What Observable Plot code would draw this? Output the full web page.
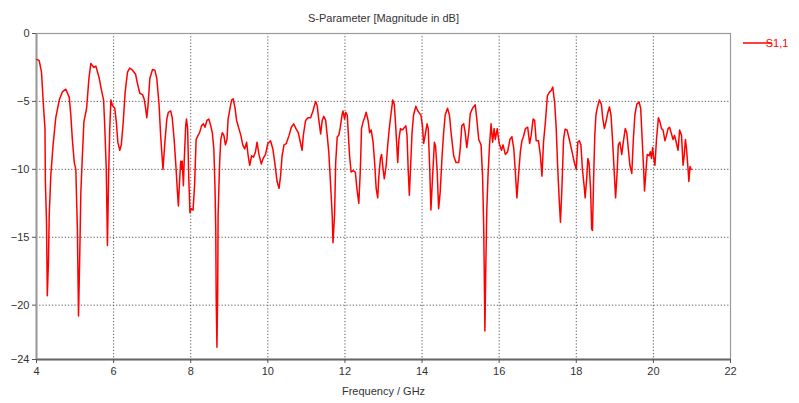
<!DOCTYPE html>
<html>
<head>
<meta charset="utf-8">
<script src="https://cdn.jsdelivr.net/npm/d3@7"></script>
<script src="https://cdn.jsdelivr.net/npm/@observablehq/plot@0.6"></script>
<style>
  html, body { margin: 0; padding: 0; background: #fff; }
</style>
</head>
<body>
<div id="chart"></div>
<script>
const freq = [
4.01,4.07,4.13,4.18,4.22,4.23,4.26,4.28,4.31,4.33,4.37,4.43,4.50,4.59,4.67,4.76,4.85,4.89,4.93,4.98,
5.02,5.06,5.09,5.12,5.15,5.19,5.23,5.30,5.36,5.41,5.49,5.54,5.62,5.68,5.74,5.77,5.81,5.84,5.87,5.90,
5.93,5.97,6.03,6.07,6.11,6.16,6.20,6.25,6.30,6.36,6.42,6.49,6.57,6.62,6.68,6.75,6.79,6.83,6.86,6.89,
6.94,7.01,7.07,7.12,7.18,7.22,7.28,7.33,7.38,7.42,7.48,7.52,7.57,7.61,7.65,7.68,7.71,7.74,7.76,7.78,
7.81,7.83,7.87,7.89,7.92,7.95,7.98,8.01,8.06,8.10,8.14,8.19,8.23,8.28,8.33,8.37,8.42,8.47,8.52,8.56,
8.60,8.63,8.65,8.66,8.68,8.70,8.71,8.75,8.78,8.82,8.86,8.90,8.94,8.97,9.02,9.06,9.10,9.15,9.19,9.25,
9.30,9.35,9.40,9.45,9.49,9.53,9.58,9.63,9.68,9.72,9.77,9.83,9.88,9.94,10.00,10.07,10.13,10.18,10.24,10.29,
10.33,10.37,10.42,10.48,10.55,10.61,10.67,10.73,10.79,10.85,10.89,10.92,10.98,11.04,11.11,11.17,11.24,11.28,11.32,11.37,
11.41,11.45,11.50,11.54,11.58,11.62,11.67,11.69,11.73,11.76,11.80,11.84,11.88,11.93,11.95,11.99,12.02,12.06,12.08,12.12,
12.16,12.21,12.27,12.31,12.36,12.40,12.43,12.47,12.51,12.55,12.60,12.64,12.68,12.73,12.77,12.81,12.85,12.88,12.92,12.95,
12.99,13.02,13.07,13.11,13.15,13.20,13.24,13.28,13.32,13.37,13.40,13.44,13.48,13.52,13.58,13.61,13.64,13.67,13.70,13.74,
13.78,13.84,13.89,13.94,13.97,14.01,14.04,14.08,14.13,14.16,14.20,14.23,14.27,14.32,14.35,14.39,14.43,14.47,14.52,14.56,
14.60,14.66,14.71,14.76,14.82,14.88,14.95,14.99,15.03,15.08,15.12,15.16,15.21,15.25,15.31,15.38,15.42,15.47,15.53,15.57,
15.60,15.62,15.63,15.65,15.68,15.71,15.75,15.79,15.83,15.87,15.90,15.95,16.00,16.06,16.10,16.16,16.22,16.28,16.33,16.38,
16.42,16.46,16.50,16.55,16.59,16.63,16.68,16.74,16.79,16.83,16.88,16.92,16.96,17.02,17.07,17.11,17.15,17.20,17.25,17.31,
17.35,17.39,17.44,17.48,17.52,17.56,17.59,17.63,17.67,17.71,17.76,17.82,17.89,17.95,18.00,18.04,18.08,18.12,18.16,18.21,
18.23,18.27,18.30,18.33,18.37,18.40,18.42,18.45,18.48,18.51,18.55,18.60,18.65,18.69,18.73,18.77,18.82,18.86,18.90,18.94,
18.99,19.02,19.06,19.09,19.13,19.18,19.22,19.27,19.31,19.35,19.39,19.44,19.48,19.52,19.57,19.63,19.67,19.71,19.75,19.77,
19.81,19.84,19.89,19.92,19.95,19.98,20.01,20.04,20.08,20.13,20.17,20.21,20.25,20.30,20.34,20.38,20.42,20.47,20.51,20.55,
20.60,20.64,20.68,20.73,20.77,20.80,20.83,20.86,20.90,20.92,20.95,20.98
];
const s11 = [
-1.91,-2.0,-2.85,-5.3,-7.0,-10.9,-13.9,-19.3,-16.8,-13.4,-10.5,-8.2,-6.2,-4.9,-4.3,-4.1,-4.7,-6.0,-7.8,-9.5,
-10.0,-14.4,-20.8,-16.6,-11.7,-9.0,-6.5,-5.5,-3.3,-2.2,-2.5,-2.4,-3.2,-4.1,-4.9,-6.8,-10.0,-15.6,-10.5,-7.0,
-4.9,-5.3,-5.5,-6.5,-8.0,-8.6,-8.2,-6.5,-4.3,-2.85,-2.55,-2.7,-3.0,-3.7,-4.4,-4.5,-4.8,-5.5,-6.2,-5.4,
-3.3,-2.65,-2.7,-3.3,-5.3,-7.5,-10.0,-8.0,-6.3,-5.8,-5.7,-6.2,-7.8,-9.5,-11.4,-12.7,-10.9,-9.4,-10.0,-9.4,
-11.2,-9.5,-6.8,-6.3,-7.0,-10.7,-13.2,-12.9,-13.0,-11.2,-7.8,-7.5,-7.3,-6.8,-6.65,-6.9,-6.4,-6.3,-6.8,-7.3,
-8.5,-11.4,-14.6,-19.3,-23.1,-18.8,-13.4,-9.5,-7.8,-7.3,-7.5,-8.2,-7.8,-6.3,-5.5,-4.9,-4.8,-5.5,-6.4,-7.0,
-7.5,-8.2,-8.5,-8.0,-9.0,-9.7,-9.0,-9.1,-8.7,-8.0,-8.9,-9.6,-9.2,-8.9,-8.1,-7.9,-8.5,-9.5,-10.9,-11.4,
-10.5,-9.0,-8.2,-8.1,-7.5,-6.9,-6.65,-7.0,-7.3,-8.1,-8.6,-7.5,-6.4,-6.2,-6.2,-5.7,-5.0,-5.3,-6.3,-7.4,
-6.4,-6.1,-6.4,-7.5,-8.7,-10.7,-13.4,-15.4,-13.4,-9.5,-7.6,-7.5,-6.9,-5.9,-5.7,-6.3,-5.8,-6.0,-7.0,-9.0,
-10.2,-10.1,-10.2,-11.4,-12.5,-10.0,-7.0,-6.5,-6.2,-5.8,-6.4,-7.3,-7.1,-8.0,-9.5,-11.4,-12.1,-10.5,-9.2,-8.9,
-10.0,-10.7,-9.7,-8.2,-7.0,-5.8,-4.9,-5.2,-7.0,-9.5,-7.8,-7.0,-7.1,-7.0,-6.8,-7.5,-10.0,-11.9,-10.0,-7.3,
-6.0,-5.35,-5.7,-5.9,-6.0,-6.8,-8.1,-7.5,-6.65,-7.0,-10.0,-13.0,-10.7,-8.0,-8.3,-10.0,-12.9,-11.7,-9.0,-7.3,
-6.0,-5.5,-6.0,-7.5,-9.0,-9.5,-9.5,-8.5,-6.8,-6.65,-7.3,-8.4,-7.3,-5.9,-5.5,-5.25,-6.3,-7.8,-8.2,-10.5,
-14.4,-19.3,-21.9,-17.8,-12.9,-10.5,-8.2,-6.65,-8.0,-7.0,-7.8,-7.0,-8.1,-8.6,-8.2,-8.9,-8.7,-7.8,-7.6,-8.5,
-10.2,-12.1,-10.5,-8.7,-7.9,-7.6,-7.0,-6.9,-8.1,-7.5,-6.3,-6.4,-7.9,-7.9,-9.0,-10.5,-8.0,-6.5,-4.6,-4.3,
-4.2,-3.95,-5.1,-7.0,-10.0,-12.4,-13.9,-11.2,-7.8,-7.05,-7.1,-7.8,-8.7,-9.5,-10.0,-8.0,-7.9,-8.2,-10.0,-11.4,
-12.1,-10.7,-9.2,-9.5,-11.4,-14.4,-14.5,-10.7,-7.5,-6.0,-5.4,-4.9,-5.2,-6.3,-7.0,-6.5,-5.8,-5.4,-6.0,-7.8,
-10.5,-12.1,-10.2,-8.2,-8.0,-8.9,-8.0,-7.0,-7.3,-8.5,-9.7,-10.3,-7.8,-6.0,-5.2,-5.05,-5.5,-7.8,-10.2,-11.6,
-10.0,-8.9,-9.0,-8.7,-9.2,-8.4,-9.2,-9.7,-7.8,-6.2,-6.5,-7.0,-7.1,-7.9,-7.5,-7.0,-6.9,-7.4,-7.8,-7.5,
-8.1,-8.6,-7.1,-7.5,-9.7,-9.0,-7.8,-8.5,-10.0,-10.9,-9.8,-10.0
];
const xTicks = [4, 6, 8, 10, 12, 14, 16, 18, 20, 22];
const yTicks = [0, -5, -10, -15, -20, -24];
const seriesName = "S1,1";
const titleText = "S-Parameter [Magnitude in dB]";
const xLabel = "Frequency / GHz";

const data = freq.map((f, i) => ({f, v: s11[i]}));
const font = "'Liberation Sans', 'DejaVu Sans', sans-serif";

const chart = Plot.plot({
  width: 799,
  height: 403,
  marginLeft: 36,
  marginRight: 69,
  marginTop: 33,
  marginBottom: 44,
  style: {fontFamily: font, fontSize: "11px", color: "#333", background: "#fff", overflow: "visible"},
  x: {domain: [4, 22], label: null},
  y: {domain: [-24, 0], label: null},
  marks: [
    Plot.gridX(xTicks.slice(1, -1), {stroke: "#444", strokeOpacity: 0.9, strokeDasharray: "1.2,2"}),
    Plot.gridY(yTicks.slice(1, -1), {stroke: "#444", strokeOpacity: 0.9, strokeDasharray: "1.2,2"}),
    Plot.frame({stroke: "#999", strokeWidth: 1.2}),
    Plot.ruleY([-24], {stroke: "#666", strokeWidth: 2}),
    Plot.ruleX([4], {stroke: "#999", strokeWidth: 2}),
    Plot.axisX({ticks: xTicks, tickSize: 4, tickPadding: 4, label: null, stroke: "#555", fill: "#333"}),
    Plot.axisY({ticks: yTicks, tickSize: 4, tickPadding: 3, label: null, stroke: "#555", fill: "#333"}),
    Plot.line(data, {x: "f", y: "v", stroke: "#ff0000", strokeWidth: 1.5, curve: "linear"}),
    Plot.text([titleText], {frameAnchor: "top", dy: -19, fill: "#333", fontSize: 11}),
    Plot.text([xLabel], {frameAnchor: "bottom", dy: 35, fill: "#333", fontSize: 11})
  ]
});

document.getElementById("chart").appendChild(chart);

// legend (series key) at the upper right, outside the plotting frame
const svg = d3.select(chart);
const frameRight = 799 - 69;
const g = svg.append("g").attr("transform", `translate(${frameRight + 13},43)`);
g.append("line").attr("x1", 0).attr("x2", 29).attr("y1", 0).attr("y2", 0)
  .attr("stroke", "#ff0000").attr("stroke-width", 1.5);
g.append("text").attr("x", 34).attr("y", 0).attr("dy", "0.35em")
  .attr("fill", "#ff0000").style("font-family", font).style("font-size", "11px").text(seriesName);
</script>
</body>
</html>
